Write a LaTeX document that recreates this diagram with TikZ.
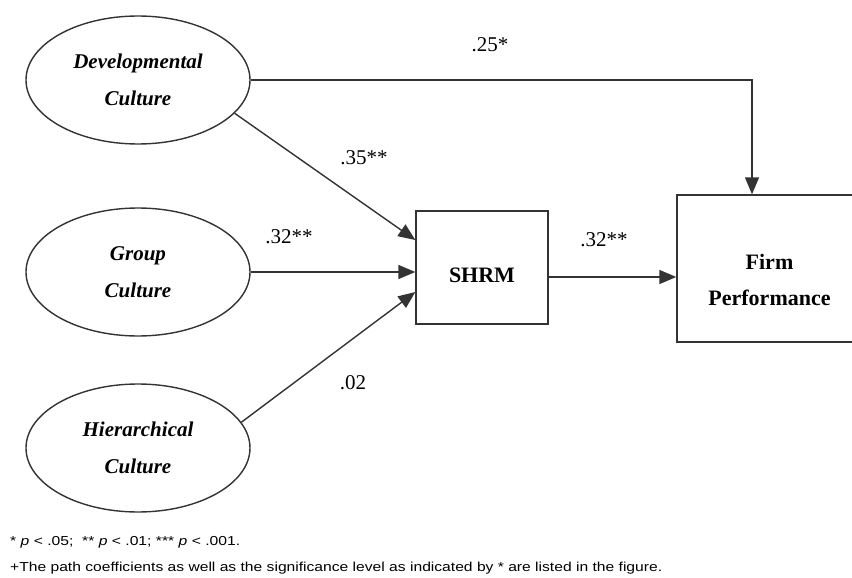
\documentclass[tikz,border=0pt]{standalone}
\usepackage{graphicx}
\usepackage{fontspec}
\setmainfont{Liberation Serif}
\newfontfamily\footfont{Liberation Sans}
\usetikzlibrary{arrows.meta,shapes.geometric}
\begin{document}
\begin{tikzpicture}[x=1pt,y=-1pt,
 line/.style={draw=black!80, line width=1.4pt},
 arr/.style={line, -{Triangle[length=17pt,width=14pt]}},
 oval/.style={ellipse, line, minimum width=224pt, minimum height=128pt, inner sep=0pt,
   font=\fontsize{21}{37}\selectfont\bfseries\itshape, align=center},
 boxnode/.style={rectangle, line, inner sep=0pt},
 boxtext/.style={font=\fontsize{22}{36}\selectfont\bfseries, align=center},
 coef/.style={font=\fontsize{21}{24}\selectfont},
 foot/.style={anchor=west, inner sep=0pt, text=black, font=\footfont\fontsize{13}{15}\selectfont}]
\useasboundingbox (0,0) rectangle (852,578);
\clip (0,0) rectangle (852,578);
\fill[white] (0,0) rectangle (852,578);

\node[oval] (dev) at (138,80) {Developmental\\Culture};
\node[oval] (grp) at (138,272) {Group\\Culture};
\node[oval] (hier) at (138,448) {Hierarchical\\Culture};

\node[boxnode, minimum width=132pt, minimum height=113pt] (shrm) at (482,267.5) {};
\node[boxtext] (shrmtext) at (482,275) {SHRM};
\node[boxnode, minimum width=185pt, minimum height=147pt] (firm) at (769.5,268.5) {};
\node[boxtext] (firmtext) at (769.5,280) {Firm\\Performance};

\coordinate (corner) at (752,80);
\draw[arr] (dev.east) -- (corner) -- (corner |- firm.north);
\draw[arr] (dev.-19.7) -- ([yshift=27.5pt]shrm.west);
\draw[arr] (grp.east) -- (grp.east -| shrm.west);
\draw[arr] (hier.14) -- ([yshift=-24.5pt]shrm.west);
\draw[arr] ([yshift=-9.5pt]shrm.east) -- ([yshift=-9.5pt]shrm.east -| firm.west);

\node[coef] (c1) at (490,45) {.25*};
\node[coef] (c2) at (364,158) {.35**};
\node[coef] (c3) at (289,237) {.32**};
\node[coef] (c4) at (604,240) {.32**};
\node[coef] (c5) at (353,383) {.02};

\node[foot] (f1) at (10,542) {\resizebox{230pt}{\height}{* \textit{p} < .05;\ \ ** \textit{p} < .01; *** \textit{p} < .001.}};
\node[foot] (f2) at (10,568) {\resizebox{652pt}{\height}{+The path coefficients as well as the significance level as indicated by * are listed in the figure.}};
\end{tikzpicture}
\end{document}
